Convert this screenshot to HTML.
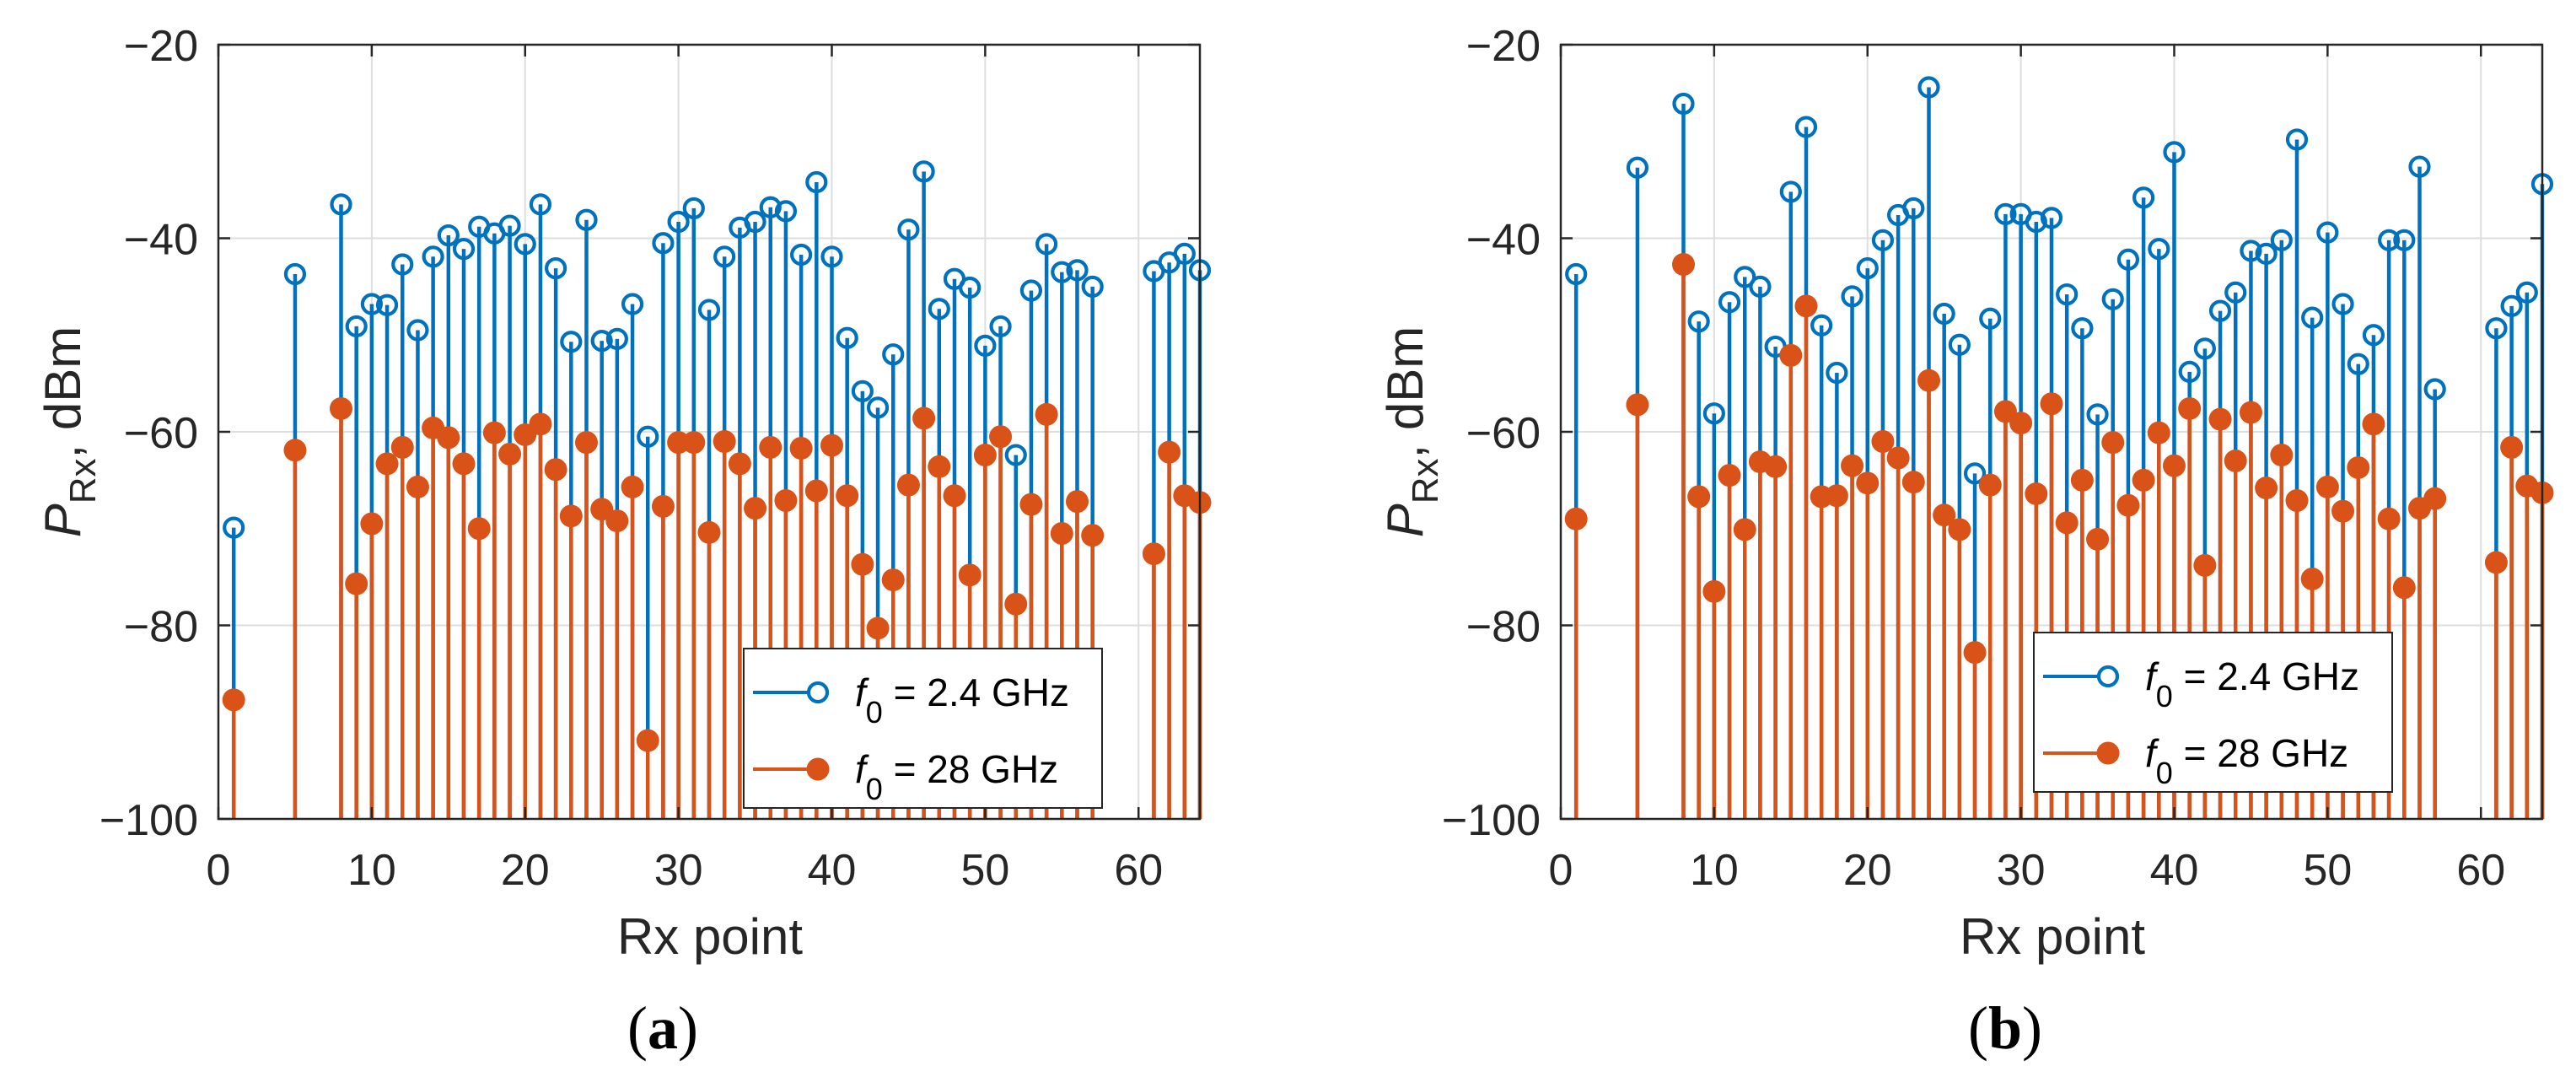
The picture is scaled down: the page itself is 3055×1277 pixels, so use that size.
<!DOCTYPE html>
<html><head><meta charset="utf-8"><style>
html,body{margin:0;padding:0;background:#fff;}
svg{display:block;font-family:"Liberation Sans",Arial,sans-serif;}
</style></head><body>
<svg id="fig" width="3055" height="1277" viewBox="0 0 3055 1277" xmlns="http://www.w3.org/2000/svg"></svg>
<script>
const xPoints=[1,5,8,9,10,11,12,13,14,15,16,17,18,19,20,21,22,23,24,25,26,27,28,29,30,31,32,33,34,35,36,37,38,39,40,41,42,43,44,45,46,47,48,49,50,51,52,53,54,55,56,57,61,62,63,64];
const aBlue=[-69.9,-43.7,-36.5,-49.1,-46.8,-46.9,-42.7,-49.5,-41.9,-39.7,-41.1,-38.8,-39.5,-38.7,-40.6,-36.5,-43.1,-50.7,-38.1,-50.6,-50.4,-46.8,-60.5,-40.5,-38.3,-36.9,-47.4,-41.9,-38.9,-38.3,-36.8,-37.2,-41.7,-34.2,-41.9,-50.3,-55.8,-57.5,-52.0,-39.1,-33.1,-47.3,-44.2,-45.1,-51.1,-49.1,-62.4,-45.4,-40.6,-43.5,-43.3,-45.0,-43.4,-42.5,-41.6,-43.3];
const aOrange=[-87.7,-61.9,-57.6,-75.7,-69.5,-63.3,-61.6,-65.7,-59.6,-60.6,-63.3,-70.0,-60.1,-62.3,-60.3,-59.2,-63.9,-68.7,-61.1,-68.0,-69.2,-65.7,-91.9,-67.7,-61.1,-61.1,-70.4,-61.0,-63.3,-67.9,-61.6,-67.1,-61.7,-66.1,-61.4,-66.6,-73.7,-80.3,-75.3,-65.5,-58.6,-63.6,-66.6,-74.8,-62.4,-60.5,-77.8,-67.5,-58.2,-70.5,-67.2,-70.7,-72.6,-62.1,-66.6,-67.3];
const bBlue=[-43.7,-32.7,-26.1,-48.6,-58.1,-46.6,-44.0,-45.0,-51.2,-35.2,-28.5,-49.0,-53.9,-46.0,-43.1,-40.2,-37.6,-36.9,-24.4,-47.8,-51.0,-64.3,-48.3,-37.5,-37.5,-38.3,-37.9,-45.8,-49.3,-58.2,-46.3,-42.2,-35.8,-41.1,-31.1,-53.8,-51.4,-47.5,-45.6,-41.3,-41.6,-40.2,-29.8,-48.2,-39.4,-46.8,-53.0,-50.0,-40.2,-40.2,-32.6,-55.6,-49.3,-47.0,-45.6,-34.4];
const bOrange=[-69.0,-57.2,-42.7,-66.7,-76.5,-64.5,-70.1,-63.1,-63.6,-52.1,-47.0,-66.7,-66.6,-63.5,-65.3,-61.0,-62.7,-65.2,-54.7,-68.6,-70.1,-82.8,-65.5,-57.9,-59.1,-66.4,-57.1,-69.4,-65.0,-71.1,-61.1,-67.6,-65.0,-60.1,-63.5,-57.6,-73.8,-58.7,-63.0,-58.0,-65.8,-62.4,-67.1,-75.2,-65.7,-68.2,-63.7,-59.2,-69.0,-76.1,-67.9,-66.9,-73.5,-61.6,-65.6,-66.3];
const xTicks=[0,10,20,30,40,50,60];
const yTicks=[-20,-40,-60,-80,-100];
const legendLabels=["2.4 GHz","28 GHz"];

const NS="http://www.w3.org/2000/svg";
const svg=document.getElementById('fig');
function mk(tag,attrs,parent){const e=document.createElementNS(NS,tag);for(const k in attrs)e.setAttribute(k,attrs[k]);(parent||svg).appendChild(e);return e;}
const BLUE="#0072BD",ORANGE="#D95319";
const T=53,B=971,W=1164;

function panel(left,blue,orange,legX,legY,cap,id){
  const g=mk('g',{});
  
  
  const xs=v=>left+v/64*W;
  const ys=v=>T+(-20-v)/80*(B-T);
  xTicks.forEach(t=>{if(t>0){const l=mk('line',{x1:xs(t),x2:xs(t),y1:T,y2:B,stroke:'#dedede','stroke-width':2},g);}});
  yTicks.forEach(t=>{if(t>-100&&t<-20){const l=mk('line',{x1:left,x2:left+W,y1:ys(t),y2:ys(t),stroke:'#dedede','stroke-width':2},g);}});
  xPoints.forEach((x,i)=>{
    const s=mk('line',{x1:xs(x),x2:xs(x),y1:ys(-100),y2:ys(blue[i]),stroke:BLUE,'stroke-width':4.5},g);
    
    
  });
  xPoints.forEach((x,i)=>{
    const s=mk('line',{x1:xs(x),x2:xs(x),y1:ys(-100),y2:ys(orange[i]),stroke:ORANGE,'stroke-width':4.5},g);
    
    
  });
  xPoints.forEach((x,i)=>{
    const c=mk('circle',{cx:xs(x),cy:ys(blue[i]),r:11,fill:'none',stroke:BLUE,'stroke-width':4.2},g);
    
    
  });
  xPoints.forEach((x,i)=>{
    const c=mk('circle',{cx:xs(x),cy:ys(orange[i]),r:13.5,fill:ORANGE},g);
    
    
  });
  const box=mk('rect',{x:left,y:T,width:W,height:B-T,fill:'none',stroke:'#262626','stroke-width':2.5},g);
  
  xTicks.forEach(t=>{
    mk('line',{x1:xs(t),x2:xs(t),y1:B,y2:B-14,stroke:'#262626','stroke-width':2.5},g);
    mk('line',{x1:xs(t),x2:xs(t),y1:T,y2:T+14,stroke:'#262626','stroke-width':2.5},g);
    const tx=mk('text',{x:xs(t),y:1049,'text-anchor':'middle','font-size':52,fill:'#262626'},g);
    tx.textContent=t;
    
  });
  yTicks.forEach(t=>{
    mk('line',{x1:left,x2:left+14,y1:ys(t),y2:ys(t),stroke:'#262626','stroke-width':2.5},g);
    mk('line',{x1:left+W,x2:left+W-14,y1:ys(t),y2:ys(t),stroke:'#262626','stroke-width':2.5},g);
    const tx=mk('text',{x:left-24,y:ys(t)+19,'text-anchor':'end','font-size':52,fill:'#262626'},g);
    tx.textContent=String(t).replace('-','\u2212');
    
  });
  const yl=mk('text',{transform:`translate(${left-164},512) rotate(-90)`,'text-anchor':'middle','font-size':60,fill:'#262626'},g);
  yl.innerHTML='<tspan font-style="italic">P</tspan><tspan font-size="44" dy="18">Rx</tspan><tspan dy="-18">, dBm</tspan>';
  
  const xl=mk('text',{x:left+W/2+1,y:1131,'text-anchor':'middle','font-size':60,fill:'#262626'},g);
  xl.textContent='Rx point';
  
  const cp=mk('text',{x:left+W/2-55,y:1243,'text-anchor':'middle','font-size':72,fill:'#000','font-family':'Liberation Serif, serif'},g);
  cp.innerHTML='(<tspan font-weight="bold">'+cap+'</tspan>)';
  
  const lg=mk('g',{},g);
  
  mk('rect',{x:legX,y:legY,width:425,height:189,fill:'#fff',stroke:'#262626','stroke-width':2},lg);
  [[BLUE,false],[ORANGE,true]].forEach((s,k)=>{
    const yy=legY+52+k*91;
    const e=mk('g',{},lg);
    
    
    mk('line',{x1:legX+11,x2:legX+88,y1:yy,y2:yy,stroke:s[0],'stroke-width':4},e);
    if(s[1])mk('circle',{cx:legX+88,cy:yy,r:13.5,fill:s[0]},e);
    else mk('circle',{cx:legX+88,cy:yy,r:11,fill:'#fff',stroke:s[0],'stroke-width':4.2},e);
    const t=mk('text',{x:legX+132,y:yy+16,'font-size':46,fill:'#000'},e);
    t.innerHTML='<tspan font-style="italic">f</tspan><tspan font-size="36" dy="20">0</tspan><tspan dy="-20"> = '+legendLabels[k]+'</tspan>';
  });
}
panel(259,aBlue,aOrange,882,769,'a','a');
panel(1851,bBlue,bOrange,2412,750,'b','b');
</script>
</body></html>
